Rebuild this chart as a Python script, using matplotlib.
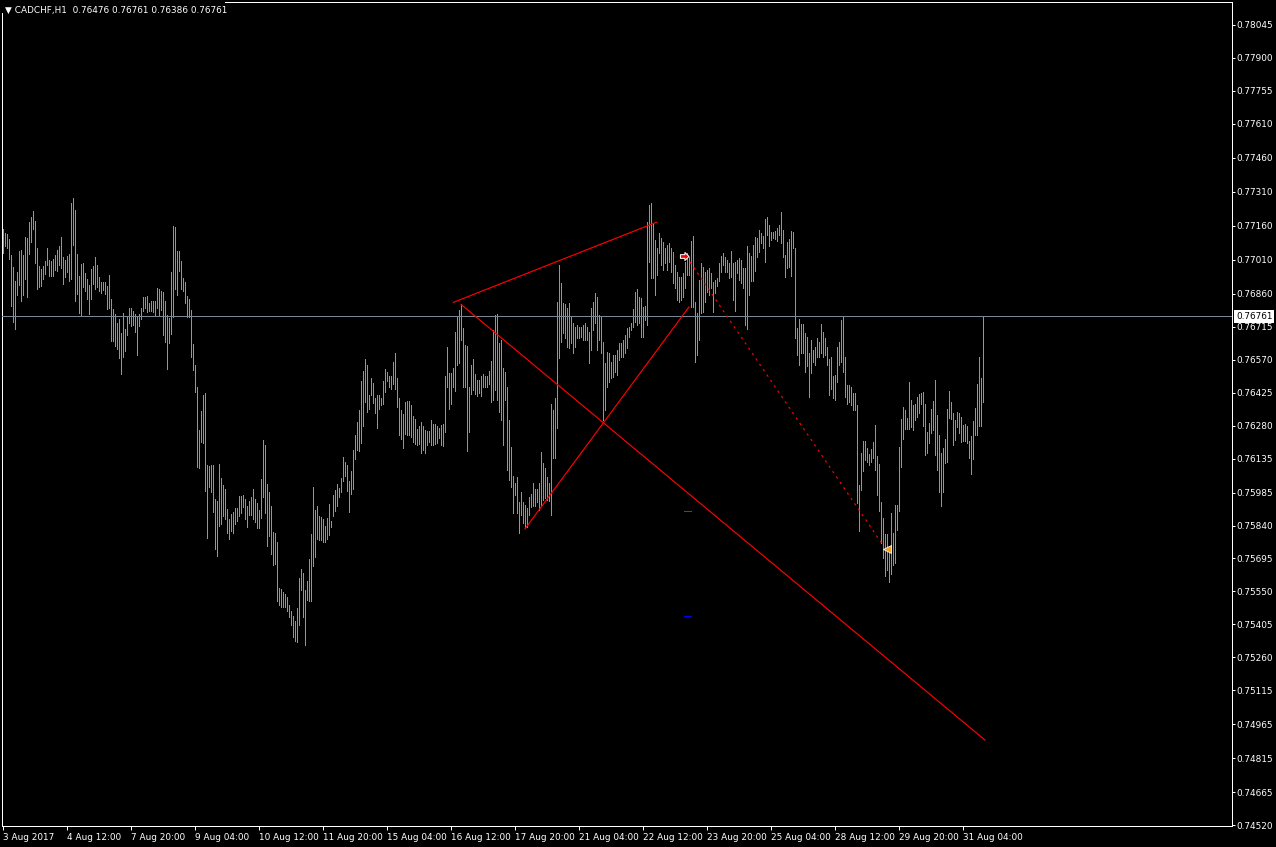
import matplotlib
matplotlib.use("Agg")
import matplotlib.pyplot as plt
import matplotlib.transforms as mtransforms
from matplotlib.patches import Rectangle
import numpy as np

# CADCHF H1 bars, high / low in points (1 point = 0.00001)
high_pts = [
    77146, 77129, 77124, 77102, 77032, 76979, 76918, 76957, 77050, 77054,
    77032, 77111, 77107, 77177, 77199, 77226, 77181, 77063, 76984, 76970,
    76984, 77006, 77063, 77010, 77006, 77014, 77032, 77054, 77072, 77111,
    77023, 77010, 77028, 77036, 77261, 77283, 77230, 77036, 76940, 76992,
    76997, 76953, 76926, 76900, 76970, 76984, 77023, 76988, 76935, 76913,
    76913, 76913, 76896, 76944, 76838, 76794, 76771, 76732, 76749, 76688,
    76776, 76705, 76763, 76799, 76799, 76785, 76771, 76763, 76771, 76799,
    76847, 76847, 76852, 76821, 76829, 76829, 76829, 76887, 76882, 76874,
    76869, 76829, 76767, 76754, 76957, 77160, 77155, 77050, 77050, 77006,
    76931, 76913, 76852, 76838, 76789, 76639, 76547, 76450, 76261, 76345,
    76415, 76424, 76107, 76103, 76107, 76107, 75957, 75949, 76111, 76050,
    76019, 76001, 75913, 75868, 75890, 75899, 75918, 75918, 75971, 75971,
    75975, 75957, 75927, 75949, 75966, 76001, 75957, 75940, 75908, 76045,
    76217, 76195, 76023, 75988, 75927, 75811, 75807, 75767, 75565, 75560,
    75547, 75538, 75525, 75490, 75464, 75442, 75420, 75477, 75609, 75648,
    75631, 75556, 75596, 75692, 75802, 76010, 75908, 75927, 75882, 75877,
    75868, 75838, 75873, 75935, 75860, 75975, 75997, 76023, 76006, 76050,
    76142, 76120, 76107, 76037, 76081, 76173, 76239, 76296, 76349, 76477,
    76521, 76573, 76547, 76415, 76490, 76468, 76402, 76415, 76415, 76402,
    76477, 76529, 76516, 76499, 76499, 76560, 76600, 76490, 76402, 76349,
    76331, 76384, 76389, 76389, 76371, 76323, 76309, 76265, 76279, 76296,
    76279, 76261, 76257, 76257, 76305, 76287, 76287, 76279, 76270, 76283,
    76287, 76499, 76626, 76512, 76512, 76534, 76692, 76758, 76789, 76816,
    76710, 76635, 76631, 76450, 76547, 76573, 76507, 76481, 76481, 76499,
    76507, 76499, 76499, 76521, 76565, 76701, 76767, 76771, 76644, 76657,
    76534, 76516, 76450, 76305, 76186, 76059, 76028, 76054, 75944, 75988,
    75944, 75931, 75918, 75966, 75979, 76028, 76001, 76001, 76028, 76164,
    76116, 76094, 76054, 76028, 76375, 76349, 76402, 76825, 76988, 76909,
    76821, 76816, 76799, 76821, 76758, 76732, 76714, 76723, 76714, 76714,
    76723, 76732, 76714, 76692, 76799, 76825, 76865, 76847, 76767, 76758,
    76648, 76556, 76604, 76600, 76560, 76591, 76591, 76613, 76644, 76644,
    76657, 76679, 76710, 76714, 76732, 76794, 76869, 76882, 76847, 76843,
    76803, 76807, 77177, 77252, 77261, 77173, 77098, 77063, 77129, 77107,
    77089, 77063, 77076, 77085, 77063, 77045, 76988, 76957, 76935, 76935,
    76953, 77001, 77041, 77023, 77094, 77116, 76825, 76776, 76922, 76997,
    76979, 76957, 76966, 76975, 76953, 76913, 76922, 76931, 76997, 77028,
    77041, 77023, 77010, 76997, 77050, 76997, 77001, 77010, 77019, 77010,
    76975, 76975, 77072, 77041, 77028, 77076, 77111, 77107, 77142, 77129,
    77116, 77190, 77199, 77164, 77133, 77133, 77137, 77151, 77164, 77221,
    77142, 77032, 77089, 77102, 77137, 77133, 77063, 76710, 76749, 76727,
    76727, 76688, 76670, 76600, 76657, 76613, 76626, 76666, 76648, 76727,
    76692, 76666, 76626, 76573, 76582, 76499, 76503, 76626, 76648, 76745,
    76758, 76582, 76459, 76459, 76450, 76424, 76424, 76371, 76019, 76160,
    76213, 76213, 76182, 76155, 76177, 76208, 76283, 76147, 76111, 75944,
    75873, 75802, 75802, 75745, 75895, 75807, 75931, 75931, 76186, 76309,
    76362, 76349, 76314, 76472, 76393, 76371, 76375, 76406, 76419, 76424,
    76428, 76375, 76252, 76292, 76353, 76389, 76481, 76327, 76239, 76160,
    76182, 76221, 76353, 76433, 76384, 76336, 76305, 76340, 76336, 76318,
    76283, 76287, 76279, 76213, 76235, 76301, 76358, 76463, 76582, 76490,
    76761,
]
low_pts = [
    77041, 77072, 77063, 77014, 76807, 76736, 76705, 76856, 76900, 76829,
    76856, 76926, 76847, 77036, 77089, 77146, 76997, 76882, 76891, 76896,
    76926, 76948, 76988, 76940, 76940, 76940, 76966, 76962, 76988, 76975,
    76904, 76935, 76957, 76918, 76926, 77076, 76829, 76860, 76776, 76767,
    76891, 76874, 76838, 76771, 76838, 76904, 76882, 76891, 76874, 76865,
    76878, 76860, 76794, 76799, 76653, 76653, 76631, 76617, 76578, 76507,
    76582, 76609, 76679, 76732, 76719, 76723, 76692, 76591, 76719, 76749,
    76785, 76799, 76780, 76785, 76785, 76780, 76767, 76799, 76763, 76789,
    76679, 76648, 76529, 76644, 76683, 76758, 76882, 76856, 76962, 76882,
    76874, 76821, 76758, 76758, 76582, 76525, 76428, 76098, 76094, 76208,
    76204, 75993, 75785, 76010, 75988, 75899, 75736, 75706, 75838, 75846,
    75882, 75868, 75807, 75780, 75816, 75807, 75846, 75860, 75882, 75895,
    75922, 75868, 75833, 75886, 75886, 75868, 75855, 75829, 75829, 75873,
    75966, 75895, 75750, 75794, 75714, 75666, 75670, 75508, 75490, 75481,
    75481, 75481, 75464, 75437, 75402, 75349, 75332, 75327, 75402, 75556,
    75437, 75314, 75512, 75508, 75508, 75662, 75701, 75780, 75776, 75776,
    75767, 75767, 75780, 75798, 75833, 75882, 75904, 75927, 75966, 75988,
    76037, 76059, 75993, 75899, 75979, 76001, 76133, 76173, 76169, 76204,
    76279, 76384, 76340, 76353, 76415, 76380, 76336, 76270, 76353, 76371,
    76375, 76428, 76477, 76450, 76441, 76463, 76441, 76362, 76239, 76221,
    76182, 76243, 76239, 76239, 76230, 76208, 76199, 76195, 76199, 76160,
    76173, 76160, 76195, 76208, 76195, 76195, 76199, 76204, 76226, 76195,
    76191, 76252, 76450, 76353, 76375, 76450, 76433, 76547, 76556, 76657,
    76450, 76450, 76169, 76252, 76419, 76437, 76419, 76411, 76424, 76411,
    76450, 76450, 76450, 76463, 76384, 76393, 76437, 76393, 76340, 76305,
    76195, 76393, 76085, 76041, 76010, 75895, 75975, 75895, 75807, 75886,
    75851, 75833, 75833, 75886, 75922, 75927, 75927, 75944, 75908, 75931,
    75953, 75962, 75953, 75949, 75886, 76138, 76138, 76270, 76578, 76648,
    76688, 76666, 76626, 76622, 76644, 76600, 76626, 76666, 76666, 76670,
    76657, 76657, 76657, 76556, 76613, 76701, 76732, 76613, 76657, 76600,
    76305, 76349, 76450, 76472, 76490, 76494, 76516, 76503, 76569, 76582,
    76582, 76600, 76622, 76670, 76701, 76714, 76736, 76723, 76732, 76670,
    76670, 76745, 76723, 77001, 76931, 76931, 76856, 76944, 77041, 76988,
    76966, 76997, 76966, 77001, 76957, 76909, 76887, 76834, 76825, 76834,
    76847, 76887, 76944, 76944, 76803, 76803, 76560, 76591, 76657, 76776,
    76780, 76825, 76869, 76856, 76887, 76780, 76865, 76896, 76918, 76957,
    76988, 76957, 76957, 76931, 76935, 76834, 76785, 76953, 76922, 76909,
    76887, 76723, 76705, 76856, 76918, 76918, 76962, 77023, 77045, 77085,
    77063, 77001, 77120, 77072, 77098, 77107, 77102, 77094, 77120, 77085,
    77023, 76935, 76975, 76979, 76940, 77063, 76666, 76591, 76547, 76600,
    76600, 76516, 76543, 76406, 76512, 76560, 76547, 76582, 76582, 76600,
    76582, 76591, 76547, 76415, 76441, 76402, 76393, 76472, 76547, 76560,
    76516, 76406, 76375, 76384, 76371, 76349, 76349, 75940, 75816, 75997,
    76081, 76129, 76120, 76107, 76120, 76138, 76085, 75975, 75904, 75763,
    75697, 75618, 75644, 75591, 75626, 75666, 75675, 75820, 75904, 76098,
    76221, 76265, 76265, 76265, 76274, 76261, 76305, 76318, 76336, 76375,
    76279, 76151, 76160, 76204, 76248, 76261, 76151, 76085, 75988, 75927,
    75988, 76116, 76120, 76314, 76309, 76195, 76217, 76274, 76248, 76208,
    76213, 76213, 76204, 76138, 76067, 76133, 76239, 76239, 76279, 76279,
    76386,
]

header = "\u25bc CADCHF,H1  0.76476 0.76761 0.76386 0.76761"
last_price = 0.76761

date_labels = ["3 Aug 2017", "4 Aug 12:00", "7 Aug 20:00", "9 Aug 04:00",
               "10 Aug 12:00", "11 Aug 20:00", "15 Aug 04:00", "16 Aug 12:00",
               "17 Aug 20:00", "21 Aug 04:00", "22 Aug 12:00", "23 Aug 20:00",
               "25 Aug 04:00", "28 Aug 12:00", "29 Aug 20:00", "31 Aug 04:00"]
date_bars = [0, 32, 64, 96, 128, 160, 192, 224, 256, 288, 320, 352, 384, 416, 448, 480]

price_ticks = [0.78045, 0.77900, 0.77755, 0.77610, 0.77460, 0.77310, 0.77160,
               0.77010, 0.76860, 0.76715, 0.76570, 0.76425, 0.76280, 0.76135,
               0.75985, 0.75840, 0.75695, 0.75550, 0.75405, 0.75260, 0.75115,
               0.74965, 0.74815, 0.74665, 0.74520]

# drawn objects (bar index, price)
upper_line = ([225.2, 326.8], [0.76823, 0.77176])
long_line = ([229.0, 491.0], [0.76814, 0.74895])
rise_line = ([261.0, 343.0], [0.75825, 0.76803])
dot_line = ([343.5, 440.5], [0.77001, 0.75747])
arrow_pt = (340.5, 0.77027)
tri_pt = (441.8, 0.75735)
red_level = ([340.5, 344.0], 0.75903)
blue_level = ([340.5, 344.0], 0.75440)

W, H = 1276, 847
fig = plt.figure(figsize=(W / 100, H / 100), dpi=100, facecolor="black")
ax = fig.add_axes([2 / W, 21 / H, 1230 / W, 824 / H])
ax.set_facecolor("black")

n = min(len(high_pts), len(low_pts))
hi = np.array(high_pts[:n]) / 1e5
lo = np.array(low_pts[:n]) / 1e5
x = np.arange(n)
ax.vlines(x, lo, hi, colors="#33dd22", linewidth=0.72, antialiased=False, zorder=2)

ax.axhline(last_price, color="#778899", linewidth=0.72, zorder=3)

red = "#ff0000"
for xs, ys in (upper_line, long_line, rise_line):
    ax.plot(xs, ys, color=red, linewidth=0.85, zorder=4)
ax.plot(dot_line[0], dot_line[1], color=red, linewidth=0.85,
        linestyle=(0, (2, 3.5)), zorder=4)
ax.plot(red_level[0], [red_level[1]] * 2, color=red, linewidth=0.72, zorder=4)
ax.plot(blue_level[0], [blue_level[1]] * 2, color="#0000ff", linewidth=0.72, zorder=4)

arrow = [(-1, -0.45), (0.1, -0.45), (0.1, -1), (1.1, 0), (0.1, 1), (0.1, 0.45), (-1, 0.45), (-1, -0.45)]
ax.plot([arrow_pt[0]], [arrow_pt[1]], marker=arrow, markersize=6.5,
        markerfacecolor=red, markeredgecolor="white", markeredgewidth=0.7, zorder=5)
ax.plot([tri_pt[0]], [tri_pt[1]], marker="<", markersize=6,
        markerfacecolor="#f0a020", markeredgecolor="white", markeredgewidth=0.6, zorder=5)

ax.set_xlim(-0.5, 614.5)
ax.set_ylim(0.745165, 0.78146)

for s in ax.spines.values():
    s.set_color("white")
    s.set_linewidth(0.72)

fs = 6.4
ax.yaxis.tick_right()
ax.set_yticks(price_ticks)
ax.set_yticklabels([f"{p:.5f}" for p in price_ticks])
ax.tick_params(axis="y", direction="out", length=2, width=0.72, pad=1.2,
               colors="white", labelsize=fs)
ax.set_xticks(date_bars)
ax.set_xticklabels(date_labels, ha="left")
ax.tick_params(axis="x", direction="out", length=3, width=0.72, pad=2,
               colors="white", labelsize=fs)

trans = mtransforms.blended_transform_factory(ax.transAxes, ax.transData)
ax.text(1.0 + 4 / 1230, last_price, f"{last_price:.5f}", transform=trans,
        ha="left", va="center", fontsize=fs, color="black", zorder=10,
        bbox=dict(boxstyle="square,pad=0.2", fc="white", ec="none"), clip_on=False)

fig.patches.append(Rectangle((0, 1 - 13 / H), 225 / W, 13 / H, transform=fig.transFigure,
                             facecolor="black", edgecolor="none", zorder=10))
fig.text(5 / W, 1 - 10 / H, header, color="white", fontsize=fs,
         ha="left", va="center", zorder=11)

fig.savefig("out.png", dpi=100, facecolor="black")
